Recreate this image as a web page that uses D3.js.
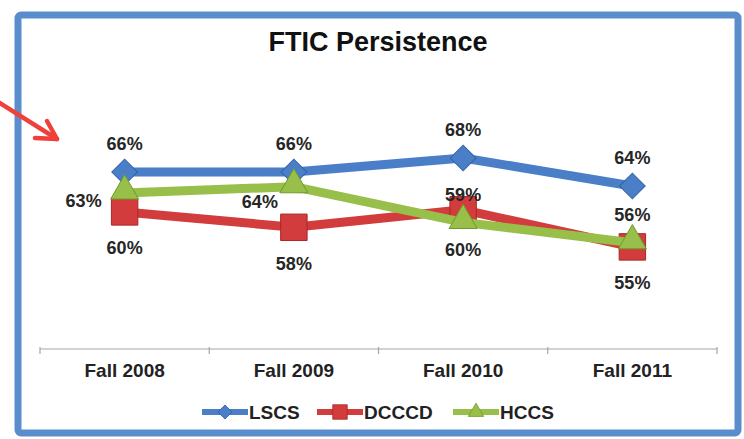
<!DOCTYPE html>
<html>
<head>
<meta charset="utf-8">
<script src="https://cdn.jsdelivr.net/npm/d3@7"></script>
<style>
  html, body { margin: 0; padding: 0; background: #fff; }
  svg { display: block; font-family: 'Liberation Sans', Arial, sans-serif; }
</style>
</head>
<body>
<svg id="chart" width="744" height="439"></svg>
<script>
// chart data
const title = 'FTIC Persistence';
const terms = ['Fall 2008', 'Fall 2009', 'Fall 2010', 'Fall 2011'];
const seriesNames = ['LSCS', 'DCCCD', 'HCCS'];
const lscs = [66, 66, 68, 64];
const dcccd = [60.3, 58.1, 60.6, 55.3];
const hccs = [63, 63.9, 58.8, 55.9];
const lscsLabels = ['66%', '66%', '68%', '64%'];
const dcccdLabels = ['60%', '58%', '59%', '55%'];
const hccsLabels = ['63%', '64%', '60%', '56%'];

(function () {
  const width = 744;
  const height = 439;
  const plot = { left: 40, right: 717, axisY: 349 };

  const colors = { LSCS: '#4a7fc8', DCCCD: '#d23c3c', HCCS: '#98bf4a' };
  const darker = { LSCS: '#2f62a8', DCCCD: '#a82828', HCCS: '#6f9a2c' };
  // diamond = square turned 45 degrees, like the Excel marker
  const shapes = { LSCS: d3.symbolSquare, DCCCD: d3.symbolSquare, HCCS: d3.symbolTriangle };
  const rotate = { LSCS: 45, DCCCD: 0, HCCS: 0 };
  const sizes = { LSCS: 330, DCCCD: 700, HCCS: 340 };

  // label offsets per point [dx, dy] relative to the marker
  const labelOffsets = {
    LSCS: [[0, -29], [0, -29], [0, -29], [0, -29]],
    DCCCD: [[0, 36], [0, 36], [0, -15], [0, 36]],
    HCCS: [[-41, 7], [-34, 15], [0, 27], [0, -28]]
  };

  const series = [
    { name: 'LSCS', values: lscs, labels: lscsLabels },
    { name: 'DCCCD', values: dcccd, labels: dcccdLabels },
    { name: 'HCCS', values: hccs, labels: hccsLabels }
  ];

  const svg = d3.select('#chart');

  svg.append('rect')
    .attr('width', width)
    .attr('height', height)
    .attr('fill', '#fff');

  // blue frame
  svg.append('rect')
    .attr('x', 18)
    .attr('y', 15)
    .attr('width', 720)
    .attr('height', 418)
    .attr('rx', 3)
    .attr('fill', '#fff')
    .attr('stroke', '#5a8dcc')
    .attr('stroke-width', 7);

  svg.append('text')
    .attr('x', 378)
    .attr('y', 51)
    .attr('text-anchor', 'middle')
    .attr('font-size', 27)
    .attr('font-weight', 'bold')
    .attr('fill', '#111')
    .text(title);

  const xScale = d3.scaleBand().domain(terms).range([plot.left, plot.right]);
  const yScale = d3.scaleLinear().domain([40, 70]).range([354, 144]);
  const cx = t => xScale(t) + xScale.bandwidth() / 2;

  // category axis with ticks on the band boundaries
  const axis = svg.append('g').attr('transform', `translate(0, ${plot.axisY})`);
  axis.append('line')
    .attr('x1', plot.left)
    .attr('x2', plot.right)
    .attr('stroke', '#a6a6a6')
    .attr('stroke-width', 1.2);
  const bounds = terms.map(t => xScale(t)).concat([plot.right]);
  axis.selectAll('.tick')
    .data(bounds)
    .enter()
    .append('line')
    .attr('class', 'tick')
    .attr('x1', d => d)
    .attr('x2', d => d)
    .attr('y1', -2)
    .attr('y2', 5)
    .attr('stroke', '#a6a6a6')
    .attr('stroke-width', 1.2);
  axis.selectAll('.cat')
    .data(terms)
    .enter()
    .append('text')
    .attr('class', 'cat')
    .attr('x', d => cx(d))
    .attr('y', 28)
    .attr('text-anchor', 'middle')
    .attr('font-size', 19)
    .attr('font-weight', 'bold')
    .attr('fill', '#222')
    .text(d => d);

  const line = d3.line()
    .x((d, i) => cx(terms[i]))
    .y(d => yScale(d));

  // each series: line then markers, in series order
  series.forEach(s => {
    const g = svg.append('g');
    g.append('path')
      .datum(s.values)
      .attr('d', line)
      .attr('fill', 'none')
      .attr('stroke', colors[s.name])
      .attr('stroke-width', 9)
      .attr('stroke-linejoin', 'round');

    g.selectAll('.marker')
      .data(s.values)
      .enter()
      .append('path')
      .attr('class', 'marker')
      .attr('d', d3.symbol().type(shapes[s.name]).size(sizes[s.name]))
      .attr('transform', (d, i) => {
        const dy = s.name === 'HCCS' ? -2 : 0;
        return `translate(${cx(terms[i])}, ${yScale(d) + dy}) rotate(${rotate[s.name]})`;
      })
      .attr('fill', colors[s.name])
      .attr('stroke', darker[s.name])
      .attr('stroke-width', 1);
  });

  // data labels on top
  series.forEach(s => {
    svg.append('g').selectAll('text')
      .data(s.values)
      .enter()
      .append('text')
      .attr('x', (d, i) => cx(terms[i]) + labelOffsets[s.name][i][0])
      .attr('y', (d, i) => yScale(d) + labelOffsets[s.name][i][1] + 6.5)
      .attr('text-anchor', 'middle')
      .attr('font-size', 18)
      .attr('font-weight', 'bold')
      .attr('fill', '#262626')
      .text((d, i) => s.labels[i]);
  });

  // legend
  const legendX = [202, 317, 453];
  const legend = svg.append('g').attr('transform', 'translate(0, 412)');
  seriesNames.forEach((name, i) => {
    const g = legend.append('g').attr('transform', `translate(${legendX[i]}, 0)`);
    g.append('line')
      .attr('x1', 0)
      .attr('x2', 46)
      .attr('stroke', colors[name])
      .attr('stroke-width', 6);
    g.append('path')
      .attr('d', d3.symbol().type(shapes[name]).size(sizes[name] * 0.3))
      .attr('transform', `translate(23, 0) rotate(${rotate[name]})`)
      .attr('fill', colors[name])
      .attr('stroke', darker[name])
      .attr('stroke-width', 0.8);
    g.append('text')
      .attr('x', 47)
      .attr('y', 7)
      .attr('font-size', 19)
      .attr('font-weight', 'bold')
      .attr('fill', '#222')
      .text(name);
  });

  // red annotation arrow at top left
  const arrow = svg.append('g')
    .attr('stroke', '#f0403c')
    .attr('stroke-width', 4.5)
    .attr('stroke-linecap', 'round')
    .attr('stroke-linejoin', 'round')
    .attr('fill', 'none');
  arrow.append('line')
    .attr('x1', -5)
    .attr('y1', 100)
    .attr('x2', 57)
    .attr('y2', 139);
  arrow.append('polyline')
    .attr('points', '35,138 57,139 47,121');
})();
</script>
</body>
</html>
